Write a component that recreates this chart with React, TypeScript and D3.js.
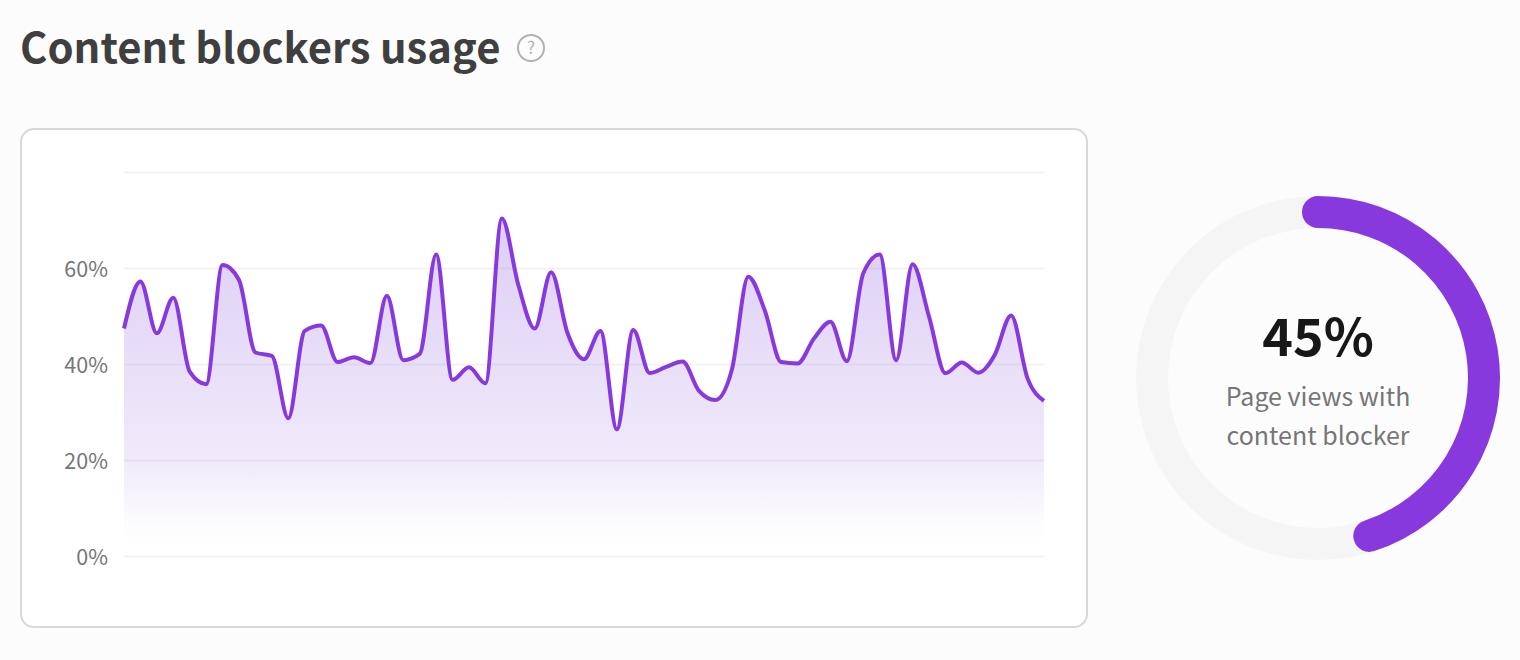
import { useEffect, useRef } from "react";
import * as d3 from "d3";

// share of page views with a content blocker, one value per period
const usageValues = [
  47.4, 57.2, 46.4, 53.8, 38.4, 35.8, 60.6, 57.5, 42.4, 41.7, 28.7, 46.9, 48.0, 40.4, 41.4,
  40.2, 54.2, 40.8, 42.1, 62.8, 36.7, 39.3, 36.0, 70.3, 56.5, 47.4, 59.1, 46.4, 41.0, 46.9,
  26.4, 47.1, 38.1, 39.4, 40.5, 34.4, 32.5, 38.8, 58.2, 51.2, 40.4, 40.1, 45.3, 48.8, 40.6,
  58.9, 62.8, 40.8, 60.8, 49.9, 38.1, 40.3, 38.2, 41.9, 50.1, 37.0, 32.3,
];
const yTicks = [0, 20, 40, 60, 80];
const yTickLabels = ["0%", "20%", "40%", "60%", ""];
const ringValue = 45;
const ringLabels = ["Page views with", "content blocker"];

const FONT = '"Noto Sans CJK SC", "Noto Sans", sans-serif';
const PURPLE = "#8839de";
const PLOT = { left: 124, right: 1044, top: 172, bottom: 556 };
const RING = { cx: 1318, cy: 378, r: 166, width: 32 };

export default function App() {
  const axisRef = useRef<SVGGElement>(null);

  const x = d3.scaleLinear().domain([0, usageValues.length - 1]).range([PLOT.left, PLOT.right]);
  const y = d3.scaleLinear().domain([0, 80]).range([PLOT.bottom, PLOT.top]);

  const line = d3
    .line<number>()
    .x((_, i) => x(i))
    .y((d) => y(d))
    .curve(d3.curveMonotoneX);
  const area = d3
    .area<number>()
    .x((_, i) => x(i))
    .y0(y(0))
    .y1((d) => y(d))
    .curve(d3.curveMonotoneX);

  // ring runs clockwise from 12 o'clock
  const angle = d3.scaleLinear().domain([0, 100]).range([-Math.PI / 2, (3 * Math.PI) / 2]);
  const ringPath = d3.path();
  ringPath.arc(0, 0, RING.r, angle(0), angle(ringValue));

  useEffect(() => {
    if (!axisRef.current) return;
    const g = d3.select(axisRef.current);
    g.selectAll("*").remove();
    g.call(
      d3
        .axisLeft(y)
        .tickValues(yTicks)
        .tickSize(-(PLOT.right - PLOT.left))
        .tickPadding(16)
        .tickFormat((_, i) => yTickLabels[i])
    ).call((ag) => {
      ag.select(".domain").remove();
      ag.selectAll("line").attr("stroke", "#f3f3f6").attr("stroke-width", 2);
      ag.selectAll("text")
        .attr("font-size", 21.5)
        .attr("font-family", FONT)
        .attr("dy", "0.38em")
        .attr("fill", "#767676");
    });
  }, []);

  return (
    <svg
      width={1520}
      height={660}
      style={{ position: "absolute", left: 0, top: 0, display: "block", background: "#fcfcfc" }}
    >
      <defs>
        <linearGradient id="usageFill" gradientUnits="userSpaceOnUse" x1={0} x2={0} y1={216} y2={542}>
          <stop offset="0%" stopColor="#7f3fd6" stopOpacity={0.26} />
          <stop offset="75%" stopColor="#7a4ad8" stopOpacity={0.115} />
          <stop offset="90%" stopColor="#7a4ad8" stopOpacity={0.04} />
          <stop offset="100%" stopColor="#7a4ad8" stopOpacity={0} />
        </linearGradient>
      </defs>

      <text x={20} y={63} fontFamily={FONT} fontSize={41.8} fontWeight={600} fill="#3f3f3f">
        Content blockers usage
      </text>
      <circle cx={531} cy={48} r={13} fill="none" stroke="#b2b2b2" strokeWidth={2} />
      <text x={531} y={54} textAnchor="middle" fontFamily={FONT} fontSize={17} fill="#b2b2b2">
        ?
      </text>

      <rect x={21} y={129} width={1066} height={498} rx={13} fill="#ffffff" stroke="#d8d8d8" strokeWidth={2} />

      <g ref={axisRef} transform={`translate(${PLOT.left},0)`} />
      <path d={area(usageValues) ?? ""} fill="url(#usageFill)" />
      <path
        d={line(usageValues) ?? ""}
        fill="none"
        stroke={PURPLE}
        strokeWidth={4}
        strokeLinejoin="round"
      />

      <g transform={`translate(${RING.cx},${RING.cy})`}>
        <circle r={RING.r} fill="none" stroke="#f5f5f5" strokeWidth={RING.width} />
        <path
          d={ringPath.toString()}
          fill="none"
          stroke={PURPLE}
          strokeWidth={RING.width}
          strokeLinecap="round"
        />
        <text y={-22} textAnchor="middle" fontFamily={FONT} fontSize={52} fontWeight={600} fill="#171717">
          {ringValue}%
        </text>
        {ringLabels.map((label, i) => (
          <text
            key={label}
            y={28 + i * 39}
            textAnchor="middle"
            fontFamily={FONT}
            fontSize={25}
            fill="#767676"
          >
            {label}
          </text>
        ))}
      </g>
    </svg>
  );
}
